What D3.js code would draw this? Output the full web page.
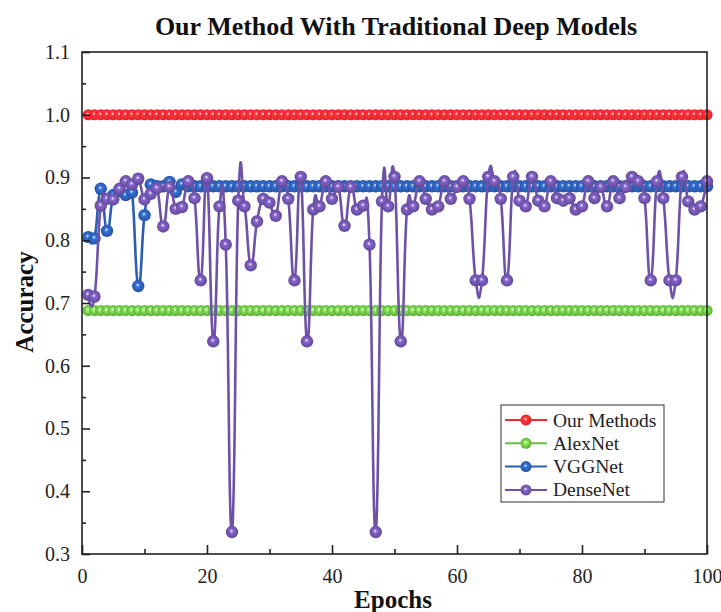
<!DOCTYPE html>
<html>
<head>
<meta charset="utf-8">
<script src="https://cdnjs.cloudflare.com/ajax/libs/d3/7.8.5/d3.min.js"></script>
<style>
  body { margin: 0; background: #fff; }
  svg { display: block; font-family: "Liberation Serif", "Times New Roman", serif; }
</style>
</head>
<body>
<svg id="chart" width="721" height="612"></svg>
<script>
// epochs 1..100
const epochs = d3.range(1, 101);

const ourMethods = epochs.map(() => 1.0);
const alexNet = epochs.map(() => 0.688);

const vggNet = [0.805, 0.803, 0.882, 0.815, 0.872, 0.878, 0.872, 0.876, 0.727, 0.840,
  0.889, 0.886, 0.886, 0.893, 0.877, 0.889, 0.886, 0.886, 0.886, 0.886,
  0.886, 0.886, 0.886, 0.886, 0.886, 0.886, 0.886, 0.886, 0.886, 0.886,
  0.886, 0.886, 0.886, 0.886, 0.886, 0.886, 0.886, 0.886, 0.886, 0.886,
  0.886, 0.886, 0.886, 0.886, 0.886, 0.886, 0.886, 0.886, 0.886, 0.886,
  0.886, 0.886, 0.886, 0.886, 0.886, 0.886, 0.886, 0.886, 0.886, 0.886,
  0.886, 0.886, 0.886, 0.886, 0.886, 0.886, 0.886, 0.886, 0.886, 0.886,
  0.886, 0.886, 0.886, 0.886, 0.886, 0.886, 0.886, 0.886, 0.886, 0.886,
  0.886, 0.886, 0.886, 0.886, 0.886, 0.886, 0.886, 0.886, 0.886, 0.886,
  0.886, 0.886, 0.886, 0.886, 0.886, 0.886, 0.886, 0.886, 0.886, 0.886];

const denseNet = [0.713, 0.710, 0.855, 0.866, 0.865, 0.882, 0.894, 0.889, 0.898, 0.865,
  0.874, 0.883, 0.822, 0.885, 0.850, 0.853, 0.894, 0.867, 0.736, 0.899,
  0.639, 0.854, 0.793, 0.335, 0.863, 0.854, 0.760, 0.830, 0.866, 0.860,
  0.839, 0.894, 0.866, 0.736, 0.901, 0.639, 0.849, 0.854, 0.894, 0.866,
  0.885, 0.823, 0.885, 0.849, 0.855, 0.793, 0.335, 0.862, 0.854, 0.901,
  0.639, 0.849, 0.854, 0.894, 0.866, 0.849, 0.854, 0.894, 0.866, 0.885,
  0.894, 0.866, 0.736, 0.736, 0.901, 0.894, 0.866, 0.736, 0.901, 0.863,
  0.854, 0.901, 0.863, 0.854, 0.894, 0.867, 0.863, 0.867, 0.849, 0.854,
  0.894, 0.867, 0.885, 0.854, 0.894, 0.867, 0.885, 0.901, 0.894, 0.867,
  0.736, 0.894, 0.867, 0.736, 0.736, 0.901, 0.862, 0.849, 0.854, 0.894];

const seriesNames = ["Our Methods", "AlexNet", "VGGNet", "DenseNet"];
const seriesValues = [ourMethods, alexNet, vggNet, denseNet];
const seriesColors = ["#ee2a30", "#6cbf45", "#2b5db3", "#6d52a8"];
const yTicks = [0.3, 0.4, 0.5, 0.6, 0.7, 0.8, 0.9, 1.0, 1.1];
const xTicks = [0, 20, 40, 60, 80, 100];

const svg = d3.select("#chart");
const L = 82, R = 707, T = 52, B = 554;

const x = d3.scaleLinear().domain([0, 100]).range([L, R]);
const y = d3.scaleLinear().domain([0.3, 1.1]).range([B, T]);

// sphere gradients
const defs = svg.append("defs");
seriesColors.forEach((c, i) => {
  const g = defs.append("radialGradient").attr("id", "ball" + i)
    .attr("cx", "0.5").attr("cy", "0.5").attr("r", "0.6")
    .attr("fx", "0.45").attr("fy", "0.4");
  g.append("stop").attr("offset", "0").attr("stop-color", "#ffffff");
  g.append("stop").attr("offset", "0.25").attr("stop-color", d3.color(c).brighter(0.6));
  g.append("stop").attr("offset", "0.65").attr("stop-color", c);
  g.append("stop").attr("offset", "1").attr("stop-color", d3.color(c).darker(0.6));
});

// title
svg.append("text").attr("x", 396).attr("y", 35).attr("text-anchor", "middle")
  .attr("font-size", 26).attr("font-weight", "bold").attr("fill", "#111")
  .text("Our Method With Traditional Deep Models");

// series
const line = d3.line().x((d, i) => x(epochs[i])).y(d => y(d))
  .curve(d3.curveCardinal.tension(-0.5));

const plot = svg.append("g");
seriesValues.forEach((vals, i) => {
  const s = plot.append("g");
  s.append("path").datum(vals).attr("d", line)
    .attr("fill", "none").attr("stroke", seriesColors[i])
    .attr("stroke-width", i < 2 ? 2 : 2.6).attr("stroke-linejoin", "round");
  s.selectAll("circle").data(vals).enter().append("circle")
    .attr("cx", (d, j) => x(epochs[j])).attr("cy", d => y(d))
    .attr("r", i < 2 ? 5.6 : 6.2).attr("fill", "url(#ball" + i + ")");
});

// frame
svg.append("rect").attr("x", L).attr("y", T).attr("width", R - L).attr("height", B - T)
  .attr("fill", "none").attr("stroke", "#222").attr("stroke-width", 1.6);

// axes with inward ticks
svg.append("g").attr("transform", `translate(${L},0)`)
  .call(d3.axisLeft(y).tickValues(yTicks).tickSize(-8).tickPadding(12).tickFormat(d3.format(".1f")));
svg.append("g").attr("transform", `translate(${L},0)`)
  .call(d3.axisLeft(y).tickValues(d3.range(0.35, 1.1, 0.1)).tickSize(-4).tickFormat(""));
svg.append("g").attr("transform", `translate(0,${B})`)
  .call(d3.axisBottom(x).tickValues(xTicks).tickSize(-9).tickPadding(15));
svg.append("g").attr("transform", `translate(0,${B})`)
  .call(d3.axisBottom(x).tickValues([10, 30, 50, 70, 90]).tickSize(-5).tickFormat(""));

svg.selectAll(".domain").remove();
svg.selectAll(".tick line").attr("stroke", "#222").attr("stroke-width", 1.6);
svg.selectAll(".tick text").attr("font-family", "Liberation Serif, serif")
  .attr("font-size", 20).attr("fill", "#222");

// axis titles
svg.append("text").attr("x", 393).attr("y", 608).attr("text-anchor", "middle")
  .attr("font-size", 25).attr("font-weight", "bold").attr("fill", "#111").text("Epochs");
svg.append("text").attr("transform", "translate(33,302) rotate(-90)").attr("text-anchor", "middle")
  .attr("font-size", 25).attr("font-weight", "bold").attr("fill", "#111").text("Accuracy");

// legend
const lg = svg.append("g").attr("transform", "translate(501,405)");
lg.append("rect").attr("width", 163).attr("height", 97)
  .attr("fill", "#fff").attr("stroke", "#333").attr("stroke-width", 1);
seriesNames.forEach((name, i) => {
  const row = lg.append("g").attr("transform", `translate(0,${15 + i * 23.3})`);
  row.append("line").attr("x1", 4).attr("x2", 46).attr("stroke", seriesColors[i]).attr("stroke-width", 2);
  row.append("circle").attr("cx", 25).attr("r", 5.5).attr("fill", "url(#ball" + i + ")");
  row.append("text").attr("x", 52).attr("y", 6.5).attr("font-size", 19.5).attr("fill", "#222").text(name);
});
</script>
</body>
</html>
